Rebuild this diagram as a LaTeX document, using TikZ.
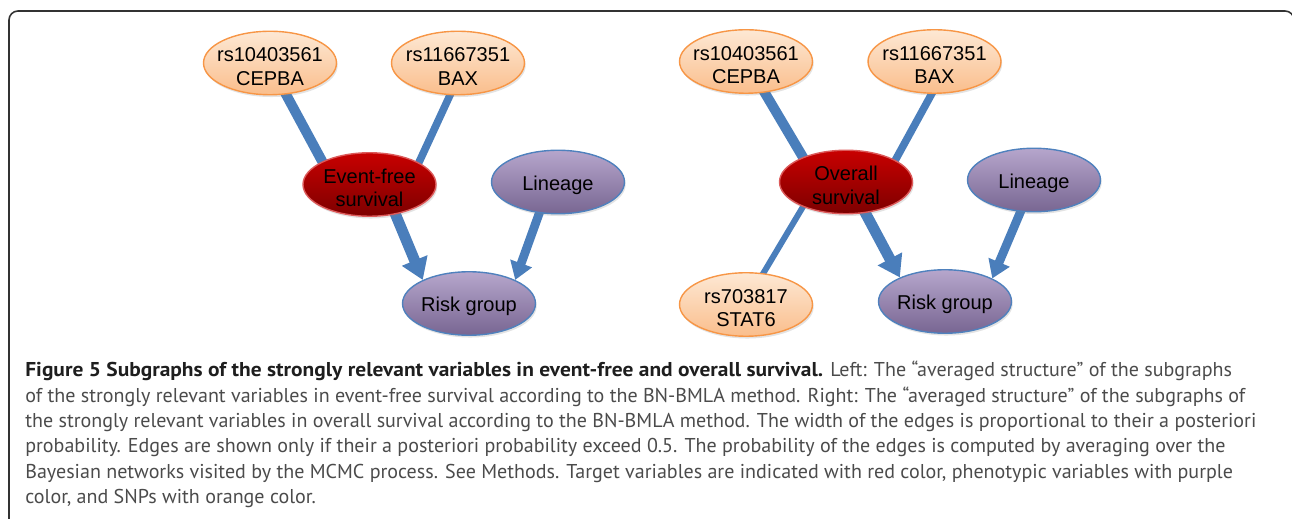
\documentclass[tikz,border=0pt]{standalone}
\usepackage{fontspec}
\setmainfont{Liberation Sans}
\newfontfamily\capfont{PT Sans}
\newfontfamily\capbf{PT Sans Bold}[FakeStretch=1.07]
\newcommand\nodestrut{\rule{0pt}{12pt}}
\usetikzlibrary{arrows.meta,shapes.geometric,shadows,backgrounds}
\definecolor{edgeblue}{RGB}{74,126,187}
\definecolor{snpTop}{RGB}{253,232,212}
\definecolor{snpBot}{RGB}{250,190,140}
\definecolor{snpLine}{RGB}{247,150,70}
\definecolor{tgtTop}{RGB}{200,0,0}
\definecolor{tgtBot}{RGB}{125,0,0}
\definecolor{tgtLine}{RGB}{220,90,90}
\definecolor{phTop}{RGB}{182,166,204}
\definecolor{phBot}{RGB}{120,102,146}
\definecolor{phLine}{RGB}{79,129,189}
\definecolor{capgray}{RGB}{75,75,75}
\definecolor{capbold}{RGB}{30,30,30}
\definecolor{framegray}{RGB}{50,50,50}
\begin{document}
\begin{tikzpicture}[x=0.02cm,y=-0.02cm,
  ell/.style={ellipse, inner sep=-1cm, minimum width=2.66cm, minimum height=1.27cm,
    font=\fontsize{11.4}{13.3}\selectfont, align=center, line width=0.8pt,
    drop shadow={opacity=0.22, shadow xshift=0.7pt, shadow yshift=-1.3pt}},
  snp/.style={ell, draw=snpLine, top color=snpTop, bottom color=snpBot},
  tgt/.style={ell, draw=tgtLine, top color=tgtTop, bottom color=tgtBot},
  phen/.style={ell, draw=phLine, top color=phTop, bottom color=phBot},
  edge/.style={draw=edgeblue},
  wthick/.style={line width=5.7pt},
  wmed/.style={line width=4.3pt},
  wthin/.style={line width=3.4pt},
  bigarrow/.style={line width=6.2pt, -{Triangle[length=12pt,width=15pt]}},
  midarrow/.style={line width=5pt, -{Triangle[length=10pt,width=12.5pt]}},
  captext/.style={anchor=base west, inner sep=0pt, text=capgray,
    font=\capfont\fontsize{11.4}{13.5}\selectfont},
  framestyle/.style={draw=framegray, line width=0.9pt, rounded corners=0.18cm}
]
\useasboundingbox (0,0) rectangle (1292,519);
\draw[framestyle] (9,545) rectangle (1294,11);

% left graph
\node[snp] (cepbaL) at (270,63) {\nodestrut rs10403561\\CEPBA};
\node[snp] (baxL) at (458,63) {\nodestrut rs11667351\\BAX};
\node[tgt] (ef) at (369.5,184.5) {\nodestrut Event-free\\survival};
\node[phen] (linL) at (558,182) {\nodestrut Lineage};
\node[phen] (riskL) at (469,303.5) {\nodestrut Risk group};

% right graph
\node[snp] (cepbaR) at (746,61.5) {\nodestrut rs10403561\\CEPBA};
\node[snp] (baxR) at (934.5,61.5) {\nodestrut rs11667351\\BAX};
\node[tgt] (os) at (846,182) {\nodestrut Overall\\survival};
\node[phen] (linR) at (1034,180) {\nodestrut Lineage};
\node[phen] (riskR) at (945,301.5) {\nodestrut Risk group};
\node[snp] (stat) at (746,304.5) {\nodestrut rs703817\\STAT6};

\begin{scope}[on background layer]
\draw[edge,wthick,shorten <=-4pt,shorten >=-4pt] (cepbaL.-63) -- (ef.154);
\draw[edge,wmed,shorten <=-4pt,shorten >=-4pt] (baxL.-104) -- (ef.24.6);
\draw[edge,bigarrow,shorten <=-4pt] (ef.-49.8) -- (riskL.153.4);
\draw[edge,midarrow,shorten <=-4pt] (linL.-121.5) -- (riskL.27.6);

\draw[edge,wthick,shorten <=-4pt,shorten >=-4pt] (cepbaR.-59.3) -- (os.150.4);
\draw[edge,wmed,shorten <=-4pt,shorten >=-4pt] (baxR.-95) -- (os.24.6);
\draw[edge,wthin,shorten <=-4pt,shorten >=-4pt] (os.-150.5) -- (stat.61.3);
\draw[edge,bigarrow,shorten <=-4pt] (os.-58.5) -- (riskR.152.4);
\draw[edge,midarrow,shorten <=-4pt] (linR.-113.6) -- (riskR.26.6);
\end{scope}

% caption
\node[captext] (cap1) at (25,377) {{\capbf\color{capbold}Figure 5 Subgraphs of the strongly relevant variables in event-free and overall survival.} Left: The “averaged structure” of the subgraphs};
\node[captext] (cap2) at (25,402.3) {of the strongly relevant variables in event-free survival according to the BN-BMLA method. Right: The “averaged structure” of the subgraphs of};
\node[captext] (cap3) at (25,427.6) {the strongly relevant variables in overall survival according to the BN-BMLA method. The width of the edges is proportional to their a posteriori};
\node[captext] (cap4) at (25,452.9) {probability. Edges are shown only if their a posteriori probability exceed 0.5. The probability of the edges is computed by averaging over the};
\node[captext] (cap5) at (25,478.2) {Bayesian networks visited by the MCMC process. See Methods. Target variables are indicated with red color, phenotypic variables with purple};
\node[captext] (cap6) at (25,503.5) {color, and SNPs with orange color.};
\end{tikzpicture}
\end{document}
